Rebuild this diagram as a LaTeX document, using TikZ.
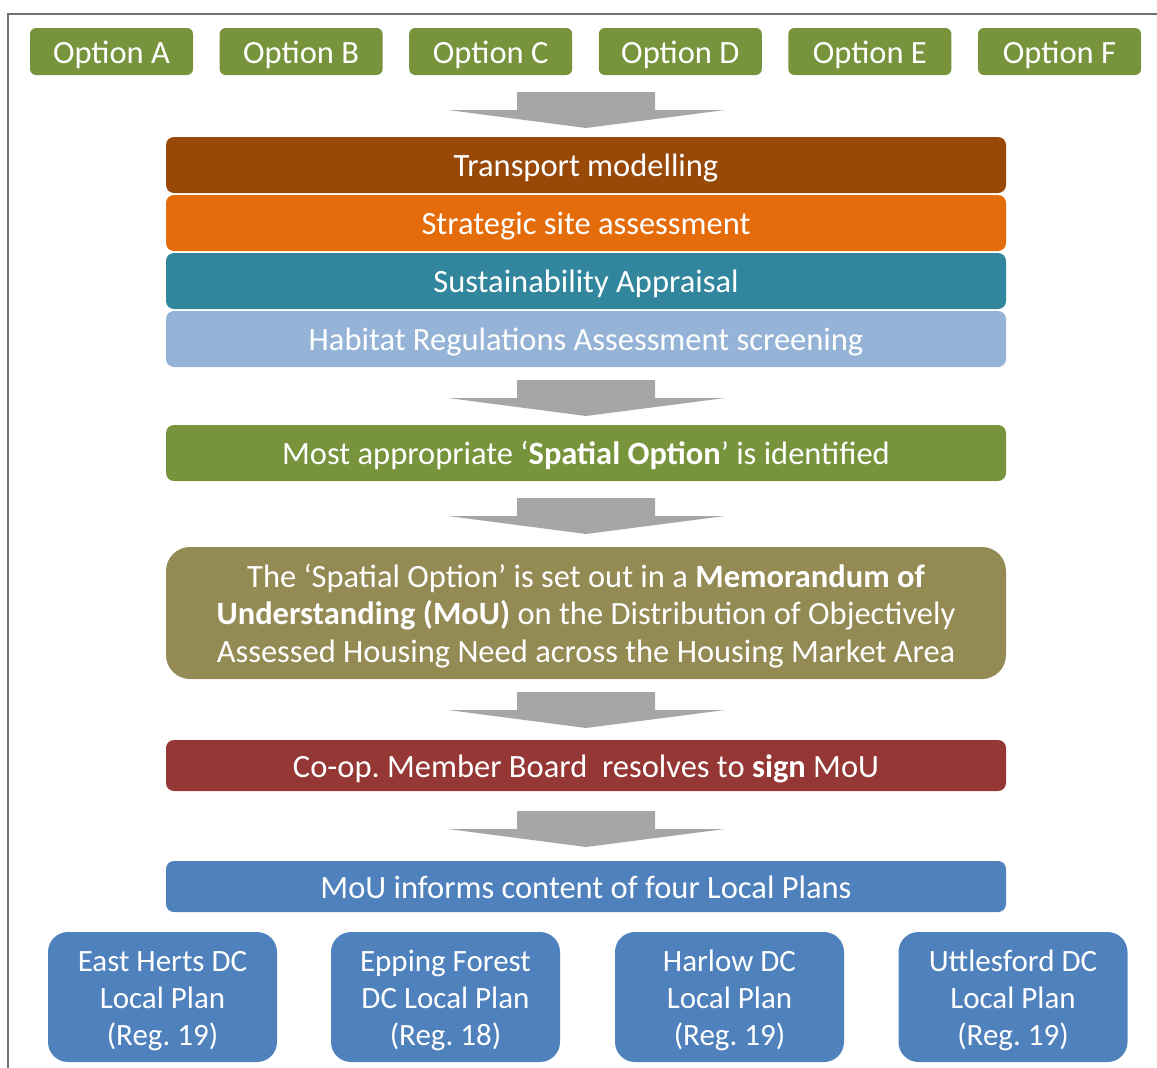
\documentclass[tikz,border=0pt]{standalone}
\usepackage{fontspec}
\setmainfont{Carlito}
\usetikzlibrary{positioning}
\frenchspacing

\definecolor{optgreen}{HTML}{77933C}
\definecolor{transbrown}{HTML}{984807}
\definecolor{siteorange}{HTML}{E46C0A}
\definecolor{sateal}{HTML}{31859C}
\definecolor{hrablue}{HTML}{95B3D7}
\definecolor{mouolive}{HTML}{948A54}
\definecolor{boardred}{HTML}{953735}
\definecolor{planblue}{HTML}{4F81BD}
\definecolor{arrowgray}{HTML}{A6A6A6}
\definecolor{framegray}{HTML}{707070}

\tikzset{
    box/.style={rounded corners=6pt, fill=#1, text=white, inner sep=0pt, align=center,
        font=\fontsize{32.5}{37.5}\selectfont, text height=30pt, text depth=7pt},
    threelines/.style={text height=105pt},
    option/.style={box=optgreen, minimum width=163pt, minimum height=47pt},
    bar/.style={box=#1, rounded corners=8pt, minimum width=840pt, minimum height=56pt},
    plan/.style={box=planblue, font=\fontsize{31}{37}\selectfont, text height=103pt,
        rounded corners=20pt, minimum width=229pt, minimum height=130pt},
    pics/downarrow/.style={code={
        \fill[arrowgray] (-69,0) -- (69,0) -- (69,18) -- (139,18) -- (0,36) -- (-138,18) -- (-69,18) -- cycle;
    }}
}

\begin{document}
\begin{tikzpicture}[x=1pt, y=-1pt]
    \useasboundingbox (0,0) rectangle (1157,1068);
    \draw[framegray, line width=2pt] (8,1068) -- (8,14) -- (1157,14);

    % the six options
    \foreach \l [count=\i from 0] in {A,B,C,D,E,F}
        \node[option] (opt\l) at ({111.5+189.6*\i},51.5) {Option \l};

    % assessment stack
    \node[bar=transbrown] (transport) at (586,165) {Transport modelling};
    \node[bar=siteorange] (site) at (586,223) {Strategic site assessment};
    \node[bar=sateal] (sa) at (586,281) {Sustainability Appraisal};
    \node[bar=hrablue] (hra) at (586,339) {Habitat Regulations Assessment screening};

    \node[bar=optgreen] (spatial) at (586,453) {Most appropriate `\textbf{Spatial Option}' is identified};
    \node[bar=mouolive, threelines, rounded corners=24pt, minimum height=132pt] (mou) at (586,613)
        {The `Spatial Option' is set out in a \textbf{Memorandum of}\\
         \textbf{Understanding (MoU)} on the Distribution of Objectively\\
         Assessed Housing Need across the Housing Market Area};
    \node[bar=boardred, minimum height=51pt] (board) at (586,765.5) {Co-op. Member Board~ resolves to \textbf{sign} MoU};
    \node[bar=planblue, minimum height=51pt] (informs) at (586,886.5) {MoU informs content of four Local Plans};

    % local plans
    \node[plan] (eastherts) at (162.5,997) {East Herts DC\\Local Plan\\(Reg. 19)};
    \node[plan] (epping) at (445.5,997) {Epping Forest\\DC Local Plan\\(Reg. 18)};
    \node[plan] (harlow) at (729.5,997) {Harlow DC\\Local Plan\\(Reg. 19)};
    \node[plan] (uttlesford) at (1013,997) {Uttlesford DC\\Local Plan\\(Reg. 19)};

    % block arrows
    \coordinate (a1) at (586,92);
    \coordinate (a2) at (586,380);
    \coordinate (a3) at (586,498);
    \coordinate (a4) at (586,692);
    \coordinate (a5) at (586,811);
    \foreach \a in {a1,a2,a3,a4,a5}
        \pic at (\a) {downarrow};
\end{tikzpicture}
\end{document}
